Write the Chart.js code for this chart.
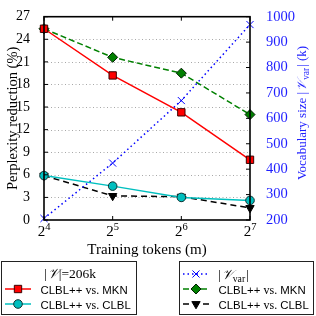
<!DOCTYPE html>
<html><head><meta charset="utf-8">
<script src="https://cdn.jsdelivr.net/npm/chart.js@4"></script>
<style>html,body{margin:0;padding:0;background:#fff;}</style>
</head><body>
<canvas id="c" width="316" height="316"></canvas>
<script>
// ---- data ----
const tokens = [16, 32, 64, 128];              // training tokens (m)
const tokenExponents = [4, 5, 6, 7];            // tick labels 2^n
const reductionTicks = [0, 3, 6, 9, 12, 15, 18, 21, 24, 27];
const vocabTicks = [200, 300, 400, 500, 600, 700, 800, 900, 1000];
const mknFixed  = [25.4, 19.2, 14.3, 8.0];      // CLBL++ vs. MKN, |V|=206k
const clblFixed = [5.9, 4.5, 3.0, 2.6];         // CLBL++ vs. CLBL, |V|=206k
const vocabVar  = [206, 424, 670, 969];         // |V_var| (k)
const mknVar    = [25.4, 21.6, 19.5, 14.0];     // CLBL++ vs. MKN, V_var
const clblVar   = [5.9, 3.2, 3.1, 1.6];         // CLBL++ vs. CLBL, V_var
const labels = {
  x: 'Training tokens (m)',
  y: 'Perplexity reduction (%)',
  fixedHeader: '=206k',
  mkn: ['CLBL++ ', 'vs.', ' MKN'],
  clbl: ['CLBL++ ', 'vs.', ' CLBL']
};

const SERIF = '"Liberation Serif", "Times New Roman", serif';
const SANS = '"Liberation Sans", Arial, sans-serif';
const BLUE = '#1f1fff';

function pts(ys) { return tokens.map((x, i) => ({x, y: ys[i]})); }

const datasets = [
  {label: labels.mkn.join(''), parts: labels.mkn, data: pts(mknFixed), yAxisID: 'y', borderColor: '#ff0000', backgroundColor: '#ff0000',
   pointStyle: 'rect', pointRadius: 5.2, pointBorderColor: '#3a0000', borderWidth: 1.5, pointBorderWidth: 1, borderDash: []},
  {label: labels.clbl.join(''), parts: labels.clbl, data: pts(clblFixed), yAxisID: 'y', borderColor: '#00bfbf', backgroundColor: '#00bfbf',
   pointStyle: 'circle', pointRadius: 4.3, pointBorderColor: '#103030', borderWidth: 1.5, pointBorderWidth: 1, borderDash: []},
  {label: '|Vvar|', data: pts(vocabVar), yAxisID: 'y2', borderColor: '#0000ff', backgroundColor: '#0000ff',
   pointStyle: 'crossRot', pointRadius: 5, pointBorderColor: '#0000ff', borderWidth: 1.5, pointBorderWidth: 1, borderDash: [1.5, 3]},
  {label: labels.mkn.join(''), parts: labels.mkn, data: pts(mknVar), yAxisID: 'y', borderColor: '#008000', backgroundColor: '#008000',
   pointStyle: 'rectRot', pointRadius: 5, pointBorderColor: '#002000', borderWidth: 1.5, pointBorderWidth: 1, borderDash: [6, 3]},
  {label: labels.clbl.join(''), parts: labels.clbl, data: pts(clblVar), yAxisID: 'y', borderColor: '#000000', backgroundColor: '#000000',
   pointStyle: 'triangle', pointRotation: 180, pointRadius: 4.8, pointBorderColor: '#000000', borderWidth: 1.5, pointBorderWidth: 1, borderDash: [6, 4]}
];
datasets.forEach(d => { d.clip = false; d.fill = false; d.tension = 0; d.pointHoverRadius = d.pointRadius; });

function drawMarker(ctx, ds, x, y) {
  Chart.helpers.drawPoint(ctx, {
    pointStyle: ds.pointStyle, radius: ds.pointRadius, rotation: ds.pointRotation || 0, borderWidth: ds.pointBorderWidth
  }, x, y);
}
function setMarkerStyle(ctx, ds) {
  ctx.fillStyle = ds.backgroundColor;
  ctx.strokeStyle = ds.pointBorderColor;
  ctx.lineWidth = ds.pointBorderWidth;
  ctx.setLineDash([]);
}

// "|V|" calligraphic with optional subscript
function drawCalV(ctx, x, y, sub, color, size) {
  ctx.fillStyle = color;
  ctx.textBaseline = 'alphabetic';
  ctx.textAlign = 'left';
  ctx.font = size + 'px ' + SERIF;
  let cx = x;
  ctx.fillText('|', cx, y); cx += ctx.measureText('|').width + 1;
  ctx.font = 'italic ' + size + 'px ' + SERIF;
  ctx.fillText('𝒱', cx, y); cx += ctx.measureText('𝒱').width;
  if (sub) {
    ctx.font = (size * 0.72) + 'px ' + SERIF;
    ctx.fillText(sub, cx, y + 3); cx += ctx.measureText(sub).width + 1;
  }
  ctx.font = size + 'px ' + SERIF;
  ctx.fillText('|', cx, y); cx += ctx.measureText('|').width;
  return cx;
}
function calVWidth(ctx, sub, size) {
  ctx.font = size + 'px ' + SERIF;
  let w = ctx.measureText('|').width * 2 + 1;
  ctx.font = 'italic ' + size + 'px ' + SERIF;
  w += ctx.measureText('𝒱').width;
  if (sub) { ctx.font = (size * 0.72) + 'px ' + SERIF; w += ctx.measureText(sub).width + 1; }
  return w;
}

const deco = {
  id: 'deco',
  beforeDatasetsDraw(chart) {
    const {ctx, chartArea: a, scales: {y}} = chart;
    ctx.save();
    ctx.strokeStyle = '#a8a8a8';
    ctx.lineWidth = 1;
    ctx.setLineDash([1, 2.5]);
    reductionTicks.forEach(v => {
      if (v <= y.min || v >= y.max) return;
      const py = Math.round(y.getPixelForValue(v)) + 0.5;
      ctx.beginPath(); ctx.moveTo(a.left, py); ctx.lineTo(a.right, py); ctx.stroke();
    });
    ctx.restore();
  },
  afterDraw(chart) {
    const {ctx, chartArea: a, scales: {x, y, y2}} = chart;
    ctx.save();
    // frame
    ctx.setLineDash([]);
    ctx.strokeStyle = '#000';
    ctx.lineWidth = 1.6;
    ctx.strokeRect(a.left, a.top, a.right - a.left, a.bottom - a.top);
    // inward ticks
    ctx.lineWidth = 1;
    const TL = 4;
    reductionTicks.forEach(v => {
      const py = y.getPixelForValue(v);
      ctx.beginPath(); ctx.moveTo(a.left, py); ctx.lineTo(a.left + TL, py); ctx.stroke();
    });
    vocabTicks.forEach(v => {
      const py = y2.getPixelForValue(v);
      ctx.beginPath(); ctx.moveTo(a.right, py); ctx.lineTo(a.right - TL, py); ctx.stroke();
    });
    tokens.forEach(v => {
      const px = x.getPixelForValue(v);
      ctx.beginPath(); ctx.moveTo(px, a.bottom); ctx.lineTo(px, a.bottom - TL); ctx.stroke();
      ctx.beginPath(); ctx.moveTo(px, a.top); ctx.lineTo(px, a.top + TL); ctx.stroke();
    });
    // x tick labels 2^n
    ctx.fillStyle = '#000';
    ctx.textBaseline = 'alphabetic';
    ctx.textAlign = 'left';
    tokens.forEach((v, i) => {
      const px = x.getPixelForValue(v);
      ctx.font = '15px ' + SERIF;
      const wb = ctx.measureText('2').width;
      ctx.font = '10.5px ' + SERIF;
      const e = String(tokenExponents[i]);
      const we = ctx.measureText(e).width;
      const x0 = px - (wb + we) / 2;
      ctx.font = '15px ' + SERIF;
      ctx.fillText('2', x0, a.bottom + 16);
      ctx.font = '10.5px ' + SERIF;
      ctx.fillText(e, x0 + wb, a.bottom + 10);
    });
    // right axis title (rotated)
    ctx.save();
    const size = 13;
    ctx.translate(301, 113);
    ctx.rotate(-Math.PI / 2);
    ctx.font = size + 'px ' + SERIF;
    const p1 = 'Vocabulary size ', p3 = ' (k)';
    const w1 = ctx.measureText(p1).width, w3 = ctx.measureText(p3).width;
    const wv = calVWidth(ctx, 'var', size);
    let cx = -(w1 + wv + w3) / 2;
    ctx.fillStyle = BLUE; ctx.font = size + 'px ' + SERIF; ctx.textAlign = 'left'; ctx.textBaseline = 'alphabetic';
    ctx.fillText(p1, cx, 5); cx += w1;
    cx = drawCalV(ctx, cx, 5, 'var', BLUE, size);
    ctx.font = size + 'px ' + SERIF; ctx.fillStyle = BLUE;
    ctx.fillText(p3, cx, 5);
    ctx.restore();

    // legends
    const ds = chart.data.datasets;
    ctx.lineWidth = 1;
    ctx.strokeStyle = '#222';
    ctx.setLineDash([]);
    ctx.strokeRect(1.5, 261.5, 135, 53);
    ctx.strokeRect(179.5, 261.5, 134, 53);

    function row(d, lx, ly, parts) {
      ctx.save();
      ctx.strokeStyle = d.borderColor;
      ctx.lineWidth = d.borderWidth;
      ctx.setLineDash(d.borderDash);
      ctx.beginPath(); ctx.moveTo(lx, ly); ctx.lineTo(lx + 26, ly); ctx.stroke();
      setMarkerStyle(ctx, d);
      drawMarker(ctx, d, lx + 13, ly);
      ctx.restore();
      if (parts) {
        ctx.fillStyle = '#000';
        ctx.textAlign = 'left'; ctx.textBaseline = 'alphabetic';
        let tx = lx + 35.5;
        parts.forEach((p, k) => {
          ctx.font = (k === 1 ? '12px ' + SERIF : '11.4px ' + SANS);
          ctx.fillText(p, tx, ly + 4.5);
          tx += ctx.measureText(p).width;
        });
      }
    }
    // left box header
    const hs = 13.5;
    const hw = calVWidth(ctx, '', hs);
    ctx.font = hs + 'px ' + SERIF;
    const hw2 = ctx.measureText(labels.fixedHeader).width;
    let hx = 70 - (hw + hw2) / 2;
    hx = drawCalV(ctx, hx, 278, '', '#000', hs);
    ctx.font = hs + 'px ' + SERIF; ctx.fillStyle = '#000'; ctx.textBaseline = 'alphabetic';
    ctx.fillText(labels.fixedHeader, hx, 278);
    row(ds[0], 5, 289, ds[0].parts);
    row(ds[1], 5, 304, ds[1].parts);
    // right box
    row(ds[2], 183, 274, null);
    drawCalV(ctx, 218, 278.5, 'var', '#000', 13.5);
    row(ds[3], 183, 289, ds[3].parts);
    row(ds[4], 183, 304, ds[4].parts);
    ctx.restore();
  }
};

new Chart(document.getElementById('c'), {
  type: 'line',
  data: {datasets},
  options: {
    responsive: false,
    animation: false,
    events: [],
    layout: {padding: {top: 4, bottom: 57, left: 0, right: 0}},
    plugins: {legend: {display: false}, tooltip: {enabled: false}},
    scales: {
      x: {
        type: 'logarithmic', min: 16, max: 128, position: 'bottom',
        afterBuildTicks: s => { s.ticks = tokens.map(v => ({value: v})); },
        afterFit: s => { s.height = 39; },
        grid: {display: false}, border: {display: false},
        ticks: {display: false},
        title: {display: true, text: labels.x, color: '#000', font: {family: SERIF, size: 15}, padding: {top: 0, bottom: 0}}
      },
      y: {
        type: 'linear', position: 'left', min: 0, max: 27,
        afterBuildTicks: s => { s.ticks = reductionTicks.map(v => ({value: v})); },
        afterFit: s => { s.width = 44; },
        grid: {display: false}, border: {display: false},
        ticks: {color: '#000', font: {family: SERIF, size: 14}, padding: 6, callback: v => String(v)},
        title: {display: true, text: labels.y, color: '#000', font: {family: SERIF, size: 14.5}, padding: {top: 4, bottom: 0}}
      },
      y2: {
        type: 'linear', position: 'right', min: 200, max: 1000,
        afterBuildTicks: s => { s.ticks = vocabTicks.map(v => ({value: v})); },
        afterFit: s => { s.width = 66; },
        grid: {display: false}, border: {display: false},
        ticks: {color: BLUE, font: {family: SERIF, size: 14.5}, padding: 8, callback: v => String(v)}
      }
    }
  },
  plugins: [deco]
});
</script>
</body></html>
